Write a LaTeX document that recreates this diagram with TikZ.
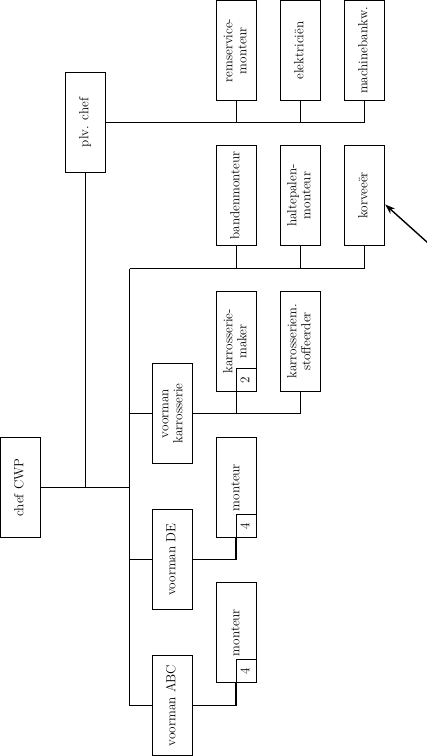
\documentclass[tikz,border=0pt]{standalone}
\usepackage{fontspec}
\usepackage{graphicx}
\usetikzlibrary{arrows.meta,calc}
\newcommand{\rt}[1]{\rotatebox{90}{\begin{tabular}{@{}c@{}}#1\end{tabular}}}
\begin{document}
\begin{tikzpicture}[x=1pt,y=-1pt,line width=1.4pt,
  orgbox/.style={draw,rectangle,minimum width=40pt,minimum height=100pt,inner sep=0pt,
    font=\fontsize{13.2}{14}\selectfont},
  numbox/.style={draw,rectangle,minimum width=20pt,minimum height=23pt,inner sep=0pt,
    anchor=south east,font=\fontsize{13.2}{14}\selectfont}]
\useasboundingbox (0,0) rectangle (427,756);
% top row
\node[orgbox] (rem)  at (236.5,50.5) {\rt{remservice-\\monteur}};
\node[orgbox] (elek) at (300.5,50.5) {\rt{elektriciën}};
\node[orgbox] (mach) at (364.5,50.5) {\rt{machinebankw.}};
\node[orgbox] (plv)  at (85.5,122.5) {\rt{plv. chef}};
% second row
\node[orgbox] (band) at (236.5,195.5) {\rt{bandenmonteur}};
\node[orgbox] (halt) at (300.5,195.5) {\rt{haltepalen-\\monteur}};
\node[orgbox] (korv) at (364.5,195.5) {\rt{korveeër}};
% karrosserie
\node[orgbox] (krm) at (236.5,341.5) {\rt{karrosserie-\\maker}};
\node[numbox] (n2) at (krm.south east) {\rt{2}};
\node[orgbox] (kst) at (300.5,341.5) {\rt{karrosseriem.\\stoffeerder}};
\node[orgbox] (vk)  at (172.5,413.5) {\rt{voorman\\karrosserie}};
% chef
\node[orgbox] (cwp) at (20.5,487.5) {\rt{chef CWP}};
% DE
\node[orgbox] (mde) at (236.5,487.5) {\rt{monteur}};
\node[numbox] (n4a) at (mde.south east) {\rt{4}};
\node[orgbox] (vde) at (172.5,559.5) {\rt{voorman DE}};
% ABC
\node[orgbox] (mabc) at (236.5,632.5) {\rt{monteur}};
\node[numbox] (n4b) at (mabc.south east) {\rt{4}};
\node[orgbox] (vabc) at (172.5,705.5) {\rt{voorman ABC}};
% coordinates
\coordinate (bus1) at (364.5,122.5);
\coordinate (bus2l) at (129.5,268.5);
\coordinate (bus2r) at (364.5,268.5);
\coordinate (mainb) at (129.5,705.5);
\coordinate (cwpj) at (85.5,487.5);
\coordinate (kbus) at (300.5,413.5);
\coordinate (arrtail) at (428,243);
% connectors
\draw (plv.east) -- (bus1);
\draw (rem.south) -- (rem.south |- bus1);
\draw (elek.south) -- (elek.south |- bus1);
\draw (mach.south) -- (bus1);
\draw (plv.south) -- (cwpj);
\draw (cwp.east) -- (cwp.east -| bus2l);
\draw (bus2l) -- (mainb);
\draw (bus2l) -- (bus2r);
\draw (band.south) -- (band.south |- bus2r);
\draw (halt.south) -- (halt.south |- bus2r);
\draw (korv.south) -- (bus2r);
\draw (vk.west) -- (vk.west -| bus2l);
\draw (vk.east) -- (kbus);
\draw (krm.south) -- (krm.south |- kbus);
\draw (kst.south) -- (kbus);
\draw (vde.west) -- (vde.west -| bus2l);
\draw (vde.east) -| (n4a.south west);
\draw (vabc.west) -- (mainb);
\draw (vabc.east) -| (n4b.south west);
\draw[-{Stealth[length=10pt,width=7pt]}] (arrtail) -- ([yshift=-9pt]korv.east);
\end{tikzpicture}
\end{document}
